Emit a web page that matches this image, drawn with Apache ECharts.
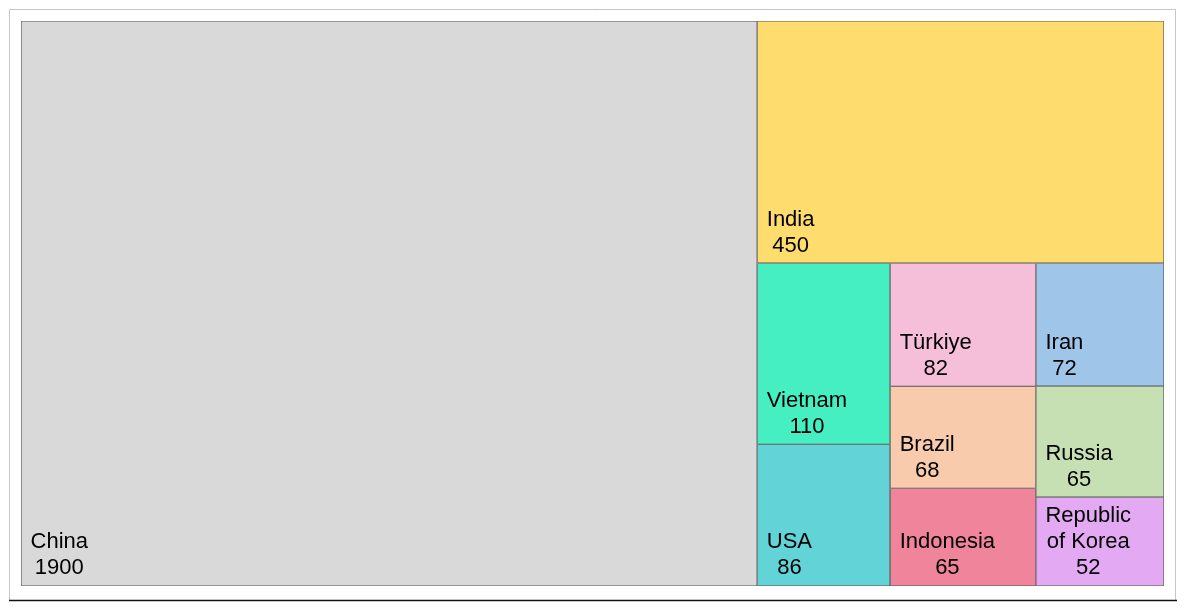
<!DOCTYPE html>
<html>
<head>
    <meta charset="UTF-8">
    <title>Treemap</title>
    <style>
        html, body { margin: 0; padding: 0; background: #fff; }
    </style>
</head>
<body>
<div id="chart" style="width: 1185px; height: 610px;"></div>
<script src="https://cdn.jsdelivr.net/npm/echarts@6/dist/echarts.min.js"></script>
<script>
    // data
    var countries = ['China', 'India', 'Vietnam', 'USA', 'Türkiye', 'Brazil', 'Indonesia', 'Iran', 'Russia', 'Republic of Korea'];
    var values = [1900, 450, 110, 86, 82, 68, 65, 72, 65, 52];
    var colors = ['#d9d9d9', '#ffdc6e', '#46efc2', '#62d4d7', '#f6bfd9', '#f9cbad', '#f0849b', '#9fc5e8', '#c6e0b4', '#e3aaf3'];
    // how the tiles are grouped (indexes into countries)
    var nesting = [0, [1, [[2, 3], [[4, 5, 6], [7, 8, 9]]]]];

    var FONT_SIZE = 22;
    var FONT_FAMILY = 'Liberation Sans, Arial, sans-serif';
    var PAD_LEFT = 9;
    var PAD_BOTTOM = 4;
    var WRAP_W = 100;

    var ctx = document.createElement('canvas').getContext('2d');
    ctx.font = FONT_SIZE + 'px ' + FONT_FAMILY;

    function wrapName(name) {
        var words = name.split(' ');
        var lines = [];
        var cur = '';
        words.forEach(function (w) {
            var test = cur ? cur + ' ' + w : w;
            if (cur && ctx.measureText(test).width > WRAP_W) {
                lines.push(cur);
                cur = w;
            } else {
                cur = test;
            }
        });
        lines.push(cur);
        return lines;
    }

    function buildNode(n) {
        if (typeof n === 'number') {
            var lines = wrapName(countries[n]);
            var w = 0;
            lines.forEach(function (l) { w = Math.max(w, ctx.measureText(l).width); });
            return {
                name: countries[n],
                value: values[n],
                itemStyle: { color: colors[n], borderColor: '#555', borderWidth: 0.6 },
                label: {
                    position: [PAD_LEFT + w / 2, '100%'],
                    offset: [0, -PAD_BOTTOM],
                    align: 'center',
                    verticalAlign: 'bottom'
                }
            };
        }
        return { name: '', children: n.map(buildNode) };
    }

    var treeData = nesting.map(buildNode);

    var chart = echarts.init(document.getElementById('chart'));
    var option = {
        animation: false,
        graphic: [
            {
                type: 'rect',
                shape: { x: 9.5, y: 9.5, width: 1166, height: 591 },
                style: { fill: 'none', stroke: '#c6c6c6', lineWidth: 1 },
                silent: true
            },
            {
                type: 'line',
                shape: { x1: 9, y1: 600.5, x2: 1177, y2: 600.5 },
                style: { stroke: '#111', lineWidth: 1.5 },
                silent: true
            }
        ],
        series: [{
            type: 'treemap',
            left: 21,
            top: 21,
            width: 1143,
            height: 565,
            sort: false,
            squareRatio: 1.2586,
            roam: false,
            nodeClick: false,
            breadcrumb: { show: false },
            itemStyle: { borderWidth: 0, gapWidth: 0 },
            label: {
                show: true,
                color: '#000',
                fontSize: FONT_SIZE,
                fontFamily: FONT_FAMILY,
                lineHeight: 26,
                padding: [0, 10, 0, 10],
                overflow: 'none',
                formatter: function (p) {
                    return wrapName(p.name).join('\n') + '\n' + p.value;
                }
            },
            data: treeData
        }]
    };
    chart.setOption(option);
</script>
</body>
</html>
